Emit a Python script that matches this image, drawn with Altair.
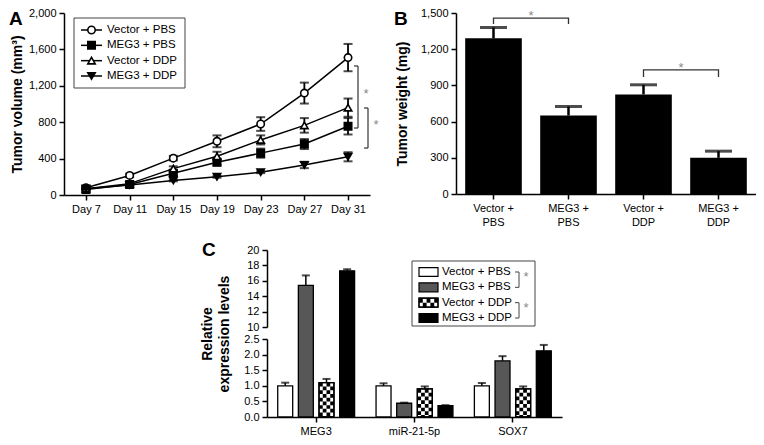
import altair as alt
import pandas as pd

FONT = "Liberation Sans"
W, H = 748, 429

# ---------------- data ----------------
days = ["Day 7", "Day 11", "Day 15", "Day 19", "Day 23", "Day 27", "Day 31"]
groups = ["Vector + PBS", "MEG3 + PBS", "Vector + DDP", "MEG3 + DDP"]

vol_vector_pbs = [80, 215, 405, 590, 780, 1120, 1510]
vol_vector_pbs_err = [15, 20, 25, 65, 75, 115, 150]
vol_meg3_pbs = [60, 115, 240, 360, 460, 560, 755]
vol_meg3_pbs_err = [10, 10, 30, 35, 50, 55, 90]
vol_vector_ddp = [70, 125, 290, 425, 605, 765, 960]
vol_vector_ddp_err = [10, 15, 25, 50, 50, 80, 100]
vol_meg3_ddp = [70, 110, 160, 200, 250, 330, 420]
vol_meg3_ddp_err = [10, 10, 10, 10, 10, 35, 50]

weight = [1290, 650, 825, 300]
weight_err = [90, 75, 80, 55]

genes = ["MEG3", "miR-21-5p", "SOX7"]
expr_vector_pbs = [1.0, 1.0, 1.0]
expr_vector_pbs_err = [0.1, 0.08, 0.09]
expr_meg3_pbs = [15.4, 0.44, 1.8]
expr_meg3_pbs_err = [1.3, 0.02, 0.15]
expr_vector_ddp = [1.1, 0.9, 0.9]
expr_vector_ddp_err = [0.12, 0.08, 0.08]
expr_meg3_ddp = [17.3, 0.36, 2.12]
expr_meg3_ddp_err = [0.2, 0.02, 0.19]

ticks_a = [0, 400, 800, 1200, 1600, 2000]
ticks_b = [0, 300, 600, 900, 1200, 1500]
ticks_c_low = [0, 0.5, 1.0, 1.5, 2.0, 2.5]
ticks_c_high = [10, 12, 14, 16, 18, 20]

# significance brackets (data units)
sig_a = [(1418, 736), (956, 516)]
sig_b = [("Vector + PBS", "MEG3 + PBS", 1458, 1409), ("Vector + DDP", "MEG3 + DDP", 1028, 970)]
sig_c = [("Vector + PBS", "MEG3 + PBS"), ("Vector + DDP", "MEG3 + DDP")]


def long_table(cats, catname, series_vals, series_errs):
    rows = []
    for g, vals, errs in zip(groups, series_vals, series_errs):
        for i, (c, v, e) in enumerate(zip(cats, vals, errs)):
            rows.append({catname: c, "idx": i, "group": g, "value": v,
                         "err": e, "lo": v - e, "hi": v + e})
    return pd.DataFrame(rows)


vol_df = long_table(days, "day",
                    [vol_vector_pbs, vol_meg3_pbs, vol_vector_ddp, vol_meg3_ddp],
                    [vol_vector_pbs_err, vol_meg3_pbs_err, vol_vector_ddp_err, vol_meg3_ddp_err])
expr_df = long_table(genes, "gene",
                     [expr_vector_pbs, expr_meg3_pbs, expr_vector_ddp, expr_meg3_ddp],
                     [expr_vector_pbs_err, expr_meg3_pbs_err, expr_vector_ddp_err, expr_meg3_ddp_err])
weight_df = pd.DataFrame({"group": groups, "value": weight, "err": weight_err})
weight_df["hi"] = weight_df["value"] + weight_df["err"]
legend_df = pd.DataFrame({"group": groups})
one = pd.DataFrame({"k": [0]})

# ---------------- axes helpers ----------------
AX = dict(grid=False, domainColor="black", domainWidth=1.5, tickColor="black",
          tickWidth=1.5, tickSize=5, labelFont=FONT, labelFontSize=11,
          labelColor="black", labelPadding=3, labelOverlap=False,
          titleFont=FONT, titleFontSize=14, titleFontWeight="bold", titleColor="black")


def left_axis(x, values, fmt, title=None, tx=0, ty=0, lh=None):
    kw = dict(AX, orient="left", offset=-x, values=values, format=fmt)
    if title is None:
        kw["title"] = None
    else:
        kw.update(title=title, titleX=tx, titleY=ty, titleAngle=270,
                  titleAlign="center", titleBaseline="middle")
        if lh:
            kw["titleLineHeight"] = lh
    return alt.Axis(**kw)


def bottom_axis(y, **extra):
    kw = dict(AX, orient="bottom", offset=y - H, title=None, labelAngle=0)
    kw.update(extra)
    return alt.Axis(**kw)


def letter(t, x, y):
    return alt.Chart(one).mark_text(text=t, font=FONT, fontSize=19, fontWeight="bold",
                                    align="left", baseline="top", color="black").encode(
        x=alt.value(x), y=alt.value(y))


star_style = dict(text="*", font=FONT, fontSize=13, color="#8a8a8a", baseline="middle")
layers = []

# ---------------- panel A ----------------
xA = alt.Scale(type="point", domain=days, range=[56, 362], padding=0.503)
yA = alt.Scale(domain=[0, 2000], range=[187, 5], nice=False, zero=False)
shapeA = alt.Scale(domain=groups, range=["circle", "square", "triangle-up", "triangle-down"])
fillA = alt.Scale(domain=groups, range=["white", "black", "white", "black"])

XA = alt.X("day:N", scale=xA, axis=None)
layers.append(alt.Chart(vol_df).mark_line(color="black", strokeWidth=1.5).encode(
    x=alt.X("day:N", scale=xA, axis=bottom_axis(187)),
    y=alt.Y("value:Q", scale=yA,
            axis=left_axis(56, ticks_a, ",d", "Tumor volume (mm³)", -47, 96)),
    detail="group:N", order="idx:Q"))
layers.append(alt.Chart(vol_df).mark_rule(color="black", strokeWidth=1.8).encode(
    x=XA, y=alt.Y("lo:Q", scale=yA, axis=None), y2="hi:Q"))
for f in ["lo", "hi"]:
    layers.append(alt.Chart(vol_df).mark_tick(color="black", size=9, thickness=2).encode(
        x=XA, y=alt.Y(f + ":Q", scale=yA, axis=None)))
layers.append(alt.Chart(vol_df).mark_point(filled=True, stroke="black", strokeWidth=1.6,
                                           size=55, opacity=1).encode(
    x=XA, y=alt.Y("value:Q", scale=yA, axis=None),
    shape=alt.Shape("group:N", scale=shapeA, legend=None),
    fill=alt.Fill("group:N", scale=fillA, legend=None)))

# legend A
rowA = alt.Scale(type="point", domain=groups, range=[22, 68], padding=0)
YLA = alt.Y("group:N", scale=rowA, axis=None)
layers.append(alt.Chart(one).mark_rect(fill="white", stroke="#444", strokeWidth=1).encode(
    x=alt.value(66), x2=alt.value(177), y=alt.value(10), y2=alt.value(80)))
layers.append(alt.Chart(legend_df).mark_rule(color="black", strokeWidth=1.5).encode(
    x=alt.value(73), x2=alt.value(94), y=YLA))
layers.append(alt.Chart(legend_df).mark_point(filled=True, stroke="black", strokeWidth=1.6,
                                              size=55, opacity=1).encode(
    x=alt.value(83.5), y=YLA,
    shape=alt.Shape("group:N", scale=shapeA, legend=None),
    fill=alt.Fill("group:N", scale=fillA, legend=None)))
layers.append(alt.Chart(legend_df).mark_text(font=FONT, fontSize=11.5, align="left",
                                             baseline="middle", color="black").encode(
    x=alt.value(99), y=YLA, text="group:N"))

# brackets A
for k, (top, bot) in enumerate(sig_a):
    xp = 350 + 10 * k
    bdf = pd.DataFrame({"top": [top], "bot": [bot], "mid": [(top + bot) / 2]})
    edf = pd.DataFrame({"v": [top, bot]})
    layers.append(alt.Chart(bdf).mark_rule(color="#333", strokeWidth=1.2).encode(
        x=alt.value(xp), y=alt.Y("top:Q", scale=yA, axis=None), y2="bot:Q"))
    layers.append(alt.Chart(edf).mark_rule(color="#333", strokeWidth=1.2).encode(
        x=alt.value(xp - 4), x2=alt.value(xp), y=alt.Y("v:Q", scale=yA, axis=None)))
    layers.append(alt.Chart(bdf).mark_text(dy=-3, **star_style).encode(
        x=alt.value(xp + 8), y=alt.Y("mid:Q", scale=yA, axis=None)))

layers.append(letter("A", 1, 2))

# ---------------- panel B ----------------
xB = alt.Scale(type="band", domain=groups, range=[448, 748], paddingInner=0.245, paddingOuter=0.1225)
yB = alt.Scale(domain=[0, 1500], range=[186, 5], nice=False, zero=False)
XB = alt.X("group:N", scale=xB, axis=None)
layers.append(alt.Chart(weight_df).mark_bar(color="black").encode(
    x=alt.X("group:N", scale=xB,
            axis=bottom_axis(186, labelExpr="split(replace(datum.label, '+ ', '+|'), '|')",
                             labelLineHeight=14)),
    y=alt.Y("value:Q", scale=yB,
            axis=left_axis(448, ticks_b, ",d", "Tumor weight (mg)", -54, 95.5)),
    y2=alt.datum(0)))
layers.append(alt.Chart(weight_df).mark_rule(color="black", strokeWidth=2.5).encode(
    x=XB, y=alt.Y("value:Q", scale=yB, axis=None), y2="hi:Q"))
layers.append(alt.Chart(weight_df).mark_tick(color="black", size=27, thickness=3).encode(
    x=XB, y=alt.Y("hi:Q", scale=yB, axis=None)))

brows, srows = [], []
for k, (g1, g2, top, bot) in enumerate(sig_b):
    for j, (g, yv) in enumerate([(g1, bot), (g1, top), (g2, top), (g2, bot)]):
        brows.append({"id": k, "o": j, "group": g, "y": yv})
    srows.append({"group": g1, "y": top})
layers.append(alt.Chart(pd.DataFrame(brows)).mark_line(color="#333", strokeWidth=1.3).encode(
    x=XB, y=alt.Y("y:Q", scale=yB, axis=None), detail="id:N", order="o:Q"))
layers.append(alt.Chart(pd.DataFrame(srows)).mark_text(dx=37.5, dy=-2, **star_style).encode(
    x=XB, y=alt.Y("y:Q", scale=yB, axis=None)))

layers.append(letter("B", 386, 2))

# ---------------- panel C ----------------
c_range = [259, 554]
c_pi, c_po, s_pi = 0.218, 0.109, 0.275
xC = alt.Scale(type="band", domain=genes, range=c_range, paddingInner=c_pi, paddingOuter=c_po)
offC = alt.Scale(type="band", domain=groups, paddingInner=s_pi, paddingOuter=0)
yC = alt.Scale(type="linear", domain=[0, 2.5, 10, 20], range=[409, 331, 319, 242],
               nice=False, zero=False)
yClow = alt.Scale(domain=[0, 2.5], range=[409, 331], nice=False, zero=False)
yChigh = alt.Scale(domain=[10, 20], range=[319, 242], nice=False, zero=False)
fillC = alt.Scale(domain=groups, range=["white", "#575757", "white", "black"])

c_step = (c_range[1] - c_range[0]) / (len(genes) - c_pi + 2 * c_po)
c_bw = c_step * (1 - c_pi)
sub_step = c_bw / (len(groups) - s_pi)
bar_w = sub_step * (1 - s_pi)
chk_center = 2 * sub_step + bar_w / 2 - c_bw / 2
col_w = bar_w / 4

XC = alt.X("gene:N", scale=xC, axis=None)
XOC = alt.XOffset("group:N", scale=offC)

layers.append(alt.Chart(pd.DataFrame({"v": ticks_c_low})).mark_point(opacity=0).encode(
    y=alt.Y("v:Q", scale=yClow,
            axis=left_axis(259, ticks_c_low, ".1f", ["Relative", "expression levels"],
                           -60, 325.5, 17))))
layers.append(alt.Chart(pd.DataFrame({"v": ticks_c_high})).mark_point(opacity=0).encode(
    y=alt.Y("v:Q", scale=yChigh, axis=left_axis(259, ticks_c_high, "d"))))

layers.append(alt.Chart(expr_df).mark_bar(stroke="black", strokeWidth=1.3).encode(
    x=alt.X("gene:N", scale=xC, axis=bottom_axis(409)),
    xOffset=XOC,
    y=alt.Y("value:Q", scale=yC, axis=None), y2=alt.datum(0),
    fill=alt.Fill("group:N", scale=fillC, legend=None)))

for k in range(4):
    layers.append(alt.Chart(expr_df).transform_filter(alt.datum.group == "Vector + DDP").mark_rule(
        color="black", strokeWidth=col_w, strokeDash=[col_w, col_w],
        strokeDashOffset=(0 if k % 2 == 0 else col_w), strokeCap="butt",
        xOffset=chk_center + (k - 1.5) * col_w).encode(
        x=XC, y=alt.Y("value:Q", scale=yC, axis=None), y2=alt.datum(0)))
layers.append(alt.Chart(expr_df).transform_filter(alt.datum.group == "Vector + DDP").mark_bar(
    fillOpacity=0, stroke="black", strokeWidth=1.3).encode(
    x=XC, xOffset=XOC, y=alt.Y("value:Q", scale=yC, axis=None), y2=alt.datum(0)))

layers.append(alt.Chart(expr_df).mark_rule(color="black", strokeWidth=1.5).encode(
    x=XC, xOffset=XOC, y=alt.Y("value:Q", scale=yC, axis=None), y2="hi:Q"))
layers.append(alt.Chart(expr_df).mark_tick(color="black", size=8, thickness=2).encode(
    x=XC, xOffset=XOC, y=alt.Y("hi:Q", scale=yC, axis=None)))

# legend C
rowC = alt.Scale(type="point", domain=groups, range=[264, 310], padding=0)
YLC = alt.Y("group:N", scale=rowC, axis=None)
swatch = "M-1,-0.47H1V0.47H-1Z"
layers.append(alt.Chart(one).mark_rect(fill="white", stroke="#444", strokeWidth=1).encode(
    x=alt.value(404), x2=alt.value(527), y=alt.value(253), y2=alt.value(318)))
layers.append(alt.Chart(legend_df).mark_point(shape=swatch, size=361, filled=True, opacity=1,
                                              stroke="black", strokeWidth=1.2).encode(
    x=alt.value(420.5), y=YLC, fill=alt.Fill("group:N", scale=fillC, legend=None)))
for k in range(2):
    layers.append(alt.Chart(legend_df).transform_filter(alt.datum.group == "Vector + DDP").mark_rule(
        color="black", strokeWidth=4.5, strokeDash=[3.8, 3.8],
        strokeDashOffset=(0 if k == 0 else 3.8), yOffset=-2.25 + 4.5 * k).encode(
        x=alt.value(411), x2=alt.value(430), y=YLC))
layers.append(alt.Chart(legend_df).transform_filter(alt.datum.group == "Vector + DDP").mark_point(
    shape=swatch, size=361, filled=False, opacity=1, stroke="black", strokeWidth=1.2).encode(
    x=alt.value(420.5), y=YLC))
layers.append(alt.Chart(legend_df).mark_text(font=FONT, fontSize=11.5, align="left",
                                             baseline="middle", color="black").encode(
    x=alt.value(434), y=YLC, text="group:N"))
cb = pd.DataFrame({"top": [a for a, b in sig_c], "bot": [b for a, b in sig_c]})
layers.append(alt.Chart(cb).mark_rule(color="#444", strokeWidth=1).encode(
    x=alt.value(511), y=alt.Y("top:N", scale=rowC, axis=None), y2="bot:N"))
layers.append(alt.Chart(legend_df).mark_rule(color="#444", strokeWidth=1).encode(
    x=alt.value(507), x2=alt.value(511), y=YLC))
layers.append(alt.Chart(cb).mark_text(dy=5, **star_style).encode(
    x=alt.value(518), y=alt.Y("top:N", scale=rowC, axis=None)))

layers.append(letter("C", 194, 233))

chart = alt.layer(*layers).resolve_scale(
    x="independent", y="independent", xOffset="independent",
    fill="independent", shape="independent"
).properties(
    width=W, height=H, padding=0, autosize=alt.AutoSizeParams(type="none")
).configure_view(strokeWidth=0)

chart.save("out.html", embed_options={"renderer": "svg", "actions": False})
